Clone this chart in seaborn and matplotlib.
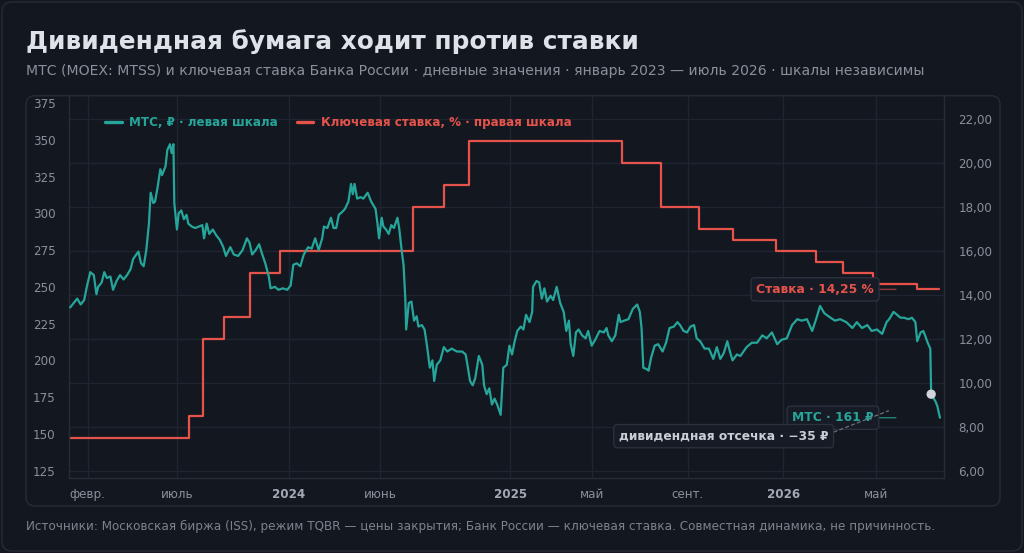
import matplotlib
matplotlib.use("Agg")
import matplotlib.pyplot as plt
import matplotlib.transforms as mtrans
from matplotlib.patches import FancyBboxPatch
from matplotlib.lines import Line2D
import seaborn as sns
import pandas as pd

# ---------------- data ----------------
# x = trading-session number since 3 Jan 2023 (session index axis)
sessions = [1, 9, 13, 17, 20, 24, 28, 31, 33, 37, 40, 43, 47, 50, 54, 58, 62, 66, 70, 73, 79, 82, 85, 88, 91, 93, 96, 98,
            101, 104, 106, 110, 112, 115, 117, 119, 120, 123, 125, 128, 131, 134, 136, 140, 144, 148, 152, 154, 157, 160,
            164, 168, 172, 176, 179, 184, 188, 193, 198, 203, 206, 209, 213, 217, 220, 224, 228, 230, 235, 239, 244, 249,
            253, 256, 260, 264, 268, 273, 277, 281, 285, 289, 291, 295, 299, 302, 305, 308, 312, 315, 319, 322, 324, 326,
            329, 333, 336, 341, 345, 350, 352, 354, 357, 359, 362, 365, 368, 371, 375, 377, 380, 382, 384, 385, 388, 391,
            394, 397, 399, 403, 406, 409, 412, 415, 417, 420, 424, 428, 432, 437, 443, 449, 453, 455, 458, 461, 464, 468,
            472, 474, 477, 480, 483, 486, 489, 493, 496, 500, 503, 506, 509, 512, 516, 519, 522, 526, 529, 530, 534, 537,
            540, 543, 546, 550, 553, 557, 561, 565, 568, 571, 573, 576, 579, 582, 586, 590, 593, 597, 601, 606, 611, 614,
            616, 620, 624, 628, 630, 634, 639, 644, 649, 652, 654, 656, 660, 662, 665, 669, 673, 678, 682, 686, 691, 695,
            698, 702, 706, 710, 714, 717, 721, 726, 731, 736, 740, 744, 748, 752, 755, 758, 763, 767, 774, 780, 786, 792,
            797, 803, 809, 814, 820, 826, 832, 837, 843, 849, 854, 858, 863, 870, 875, 881, 888, 895, 900, 906, 912, 917,
            923, 929, 934, 937, 942, 946, 950, 954, 959, 963, 967, 969, 973, 976, 978, 981, 984, 985, 988, 990, 992, 995]
mts_price = [236, 242, 238, 241, 250, 260, 258, 245, 250, 253, 260, 256, 257, 248, 254, 258, 255, 258, 262, 269, 274, 266,
             264, 275, 293, 314, 307, 308, 318, 330, 326, 332, 343, 347, 341, 347, 307, 289, 300, 302, 296, 299, 293, 291,
             290, 291, 292, 283, 293, 286, 289, 285, 282, 277, 271, 277, 272, 271, 275, 283, 280, 272, 275, 279, 273, 266,
             257, 249, 250, 248, 249, 248, 251, 265, 266, 264, 272, 277, 276, 283, 275, 283, 291, 290, 297, 290, 290, 299,
             301, 303, 308, 320, 313, 320, 310, 311, 310, 314, 308, 303, 294, 283, 297, 291, 289, 286, 292, 290, 297, 290,
             274, 265, 242, 221, 239, 240, 227, 230, 223, 224, 221, 209, 195, 200, 186, 197, 200, 209, 206, 208, 206, 206,
             204, 197, 186, 183, 188, 203, 197, 183, 177, 181, 170, 174, 170, 163, 195, 197, 210, 204, 213, 220, 223, 221,
             231, 226, 233, 250, 254, 253, 242, 249, 240, 244, 241, 250, 239, 233, 220, 227, 211, 203, 219, 221, 217, 215,
             220, 210, 214, 220, 219, 222, 217, 213, 217, 231, 226, 227, 228, 235, 238, 233, 222, 195, 194, 193, 202, 210,
             211, 206, 212, 222, 223, 226, 224, 220, 219, 223, 224, 215, 213, 208, 208, 201, 209, 201, 205, 213, 206, 200,
             204, 203, 209, 212, 212, 217, 215, 219, 211, 214, 215, 224, 228, 227, 228, 220, 229, 237, 232, 229, 227, 228,
             226, 222, 226, 222, 224, 220, 221, 218, 226, 228, 233, 231, 229, 229, 228, 229, 226, 213, 219, 220, 217, 212,
             208, 177, 174, 172, 169, 161]

rate_sessions = [0, 137, 153, 177, 207, 241, 393, 428, 457, 632, 676, 720, 759, 808, 853, 884, 919, 969, 994]
key_rate = [7.5, 8.5, 12.0, 13.0, 15.0, 16.0, 18.0, 19.0, 21.0, 20.0, 18.0, 17.0, 16.5, 16.0, 15.5, 15.0, 14.5, 14.25, 14.25]

tick_sessions = [21, 123, 251, 355, 504, 597, 707, 816, 922]
tick_labels = ["февр.", "июль", "2024", "июнь", "2025", "май", "сент.", "2026", "май"]

div_session = 985
div_gap = 35

left_ticks = [125, 150, 175, 200, 225, 250, 275, 300, 325, 350, 375]
right_ticks = [6, 8, 10, 12, 14, 16, 18, 20, 22]

title = "Дивидендная бумага ходит против ставки"
subtitle = ("МТС (MOEX: MTSS) и ключевая ставка Банка России · дневные значения · "
            "январь 2023 — июль 2026 · шкалы независимы")
footer = ("Источники: Московская биржа (ISS), режим TQBR — цены закрытия; Банк России — ключевая ставка. "
          "Совместная динамика, не причинность.")
legend_mts = "МТС, ₽ · левая шкала"
legend_rate = "Ключевая ставка, % · правая шкала"

# ---------------- style ----------------
BG = "#131720"
PANEL_EDGE = "#262c37"
GRID = "#1f2530"
TEAL = "#26a69a"
RED = "#e5534b"
TICK = "#8a909b"
YEAR = "#a3a9b4"
BOXBG = "#161b25"
BOXEDGE = "#2c3340"

sns.set_theme(style="dark")
plt.rcParams["font.family"] = ["DejaVu Sans"]
plt.rcParams["axes.unicode_minus"] = True

W, H = 1024, 553
fig = plt.figure(figsize=(W / 100, H / 100), dpi=100, facecolor=BG)
ident = mtrans.IdentityTransform()

# outer card and chart panel (pixel coordinates), drawn beneath the axes
fig.patches.append(FancyBboxPatch((2, 2), W - 4, H - 4, boxstyle="round,pad=0,rounding_size=10",
                                  transform=ident, facecolor=BG, edgecolor=PANEL_EDGE, lw=1, zorder=-3))
fig.patches.append(FancyBboxPatch((26, H - 506), 974, 410.3, boxstyle="round,pad=0,rounding_size=9",
                                  transform=ident, facecolor=BG, edgecolor=PANEL_EDGE, lw=1, zorder=-2))

ax = fig.add_axes([69.3 / W, (H - 478) / H, 875 / W, 382.3 / H])
ax.patch.set_visible(False)

# rate (bottom layer, right scale)
rate_df = pd.DataFrame({"s": rate_sessions, "r": key_rate})
sns.lineplot(data=rate_df, x="s", y="r", ax=ax, color=RED, lw=1.6, drawstyle="steps-post",
             estimator=None, sort=False, legend=False)

twin = ax.twinx()
twin.patch.set_visible(False)
price_df = pd.DataFrame({"s": sessions, "p": mts_price})
sns.lineplot(data=price_df, x="s", y="p", ax=twin, color=TEAL, lw=1.6,
             estimator=None, sort=False, legend=False)

div_price = mts_price[sessions.index(div_session)]
sns.scatterplot(x=[div_session], y=[div_price], ax=twin, color="#d1d5db", s=45,
                edgecolor="none", zorder=6, legend=False)

# axes / scales
ax.set_xlim(0, 1000)
ax.set_ylim(5.66, 23.07)
twin.set_ylim(120, 380)

ax.yaxis.tick_right()
ax.yaxis.set_label_position("right")
twin.yaxis.tick_left()
twin.yaxis.set_label_position("left")

for a in (ax, twin):
    a.set_xlabel("")
    a.set_ylabel("")

ax.set_xticks(tick_sessions)
ax.set_xticklabels(tick_labels)
ax.set_yticks(right_ticks)
ax.set_yticklabels([f"{v:.2f}".replace(".", ",") for v in right_ticks])
twin.set_yticks(left_ticks)
twin.set_yticklabels([str(v) for v in left_ticks])

ax.tick_params(axis="x", length=0, pad=7, labelsize=8.6, labelcolor=TICK)
ax.tick_params(axis="y", length=0, pad=10, labelsize=8.6, labelcolor=TICK,
               left=False, labelleft=False, right=True, labelright=True)
twin.tick_params(axis="y", length=0, pad=10, labelsize=8.6, labelcolor=TICK,
                 left=True, labelleft=True, right=False, labelright=False)

for lbl in ax.get_xticklabels():
    if lbl.get_text().isdigit():
        lbl.set_fontweight("bold")
        lbl.set_color(YEAR)

ax.grid(True, axis="both", color=GRID, lw=1)
twin.grid(False)

for name, sp in ax.spines.items():
    sp.set_visible(name in ("left", "right", "bottom"))
    sp.set_color(PANEL_EDGE)
    sp.set_linewidth(1)
for sp in twin.spines.values():
    sp.set_visible(False)

# legend
handles = [Line2D([0], [0], color=TEAL, lw=2.4), Line2D([0], [0], color=RED, lw=2.4)]
leg = twin.legend(handles, [legend_mts, legend_rate], loc="upper left", bbox_to_anchor=(0.034, 0.962),
                  ncol=2, frameon=False, borderpad=0, handlelength=1.4, handletextpad=0.6,
                  columnspacing=1.6, prop={"weight": "bold", "size": 8.6})
for txt, c in zip(leg.get_texts(), [TEAL, RED]):
    txt.set_color(c)

# end labels
box = dict(boxstyle="round,pad=0.42,rounding_size=0.3", fc=BOXBG, ec=BOXEDGE, lw=0.9)
last_price = mts_price[-1]
twin.annotate(f"МТС · {last_price:.0f} ₽", xy=(sessions[-1], last_price), xytext=(-47.7, 0),
              textcoords="offset points", ha="right", va="center", color=TEAL, fontsize=8.8,
              fontweight="bold", bbox=box, zorder=7,
              arrowprops=dict(arrowstyle="-", color=TEAL, lw=1, alpha=0.75, shrinkA=0, shrinkB=31.7))
last_rate = key_rate[-1]
ax.annotate(f"Ставка · {last_rate:.2f} %".replace(".", ","), xy=(rate_sessions[-1], last_rate),
            xytext=(-46.9, 0), textcoords="offset points", ha="right", va="center", color=RED,
            fontsize=8.8, fontweight="bold", bbox=box, zorder=7,
            arrowprops=dict(arrowstyle="-", color=RED, lw=1, alpha=0.6, shrinkA=0, shrinkB=31))
twin.annotate(f"дивидендная отсечка · −{div_gap} ₽", xy=(div_session, div_price), xytext=(-74, -30.2),
              textcoords="offset points", ha="right", va="center", color="#c9ced6", fontsize=8.8,
              fontweight="bold", bbox=box, zorder=7,
              arrowprops=dict(arrowstyle="-", color="#6b7280", lw=0.9, linestyle=(0, (2.5, 2.5)),
                              shrinkA=0, shrinkB=33, relpos=(1.0, 0.65)))

# titles
fig.text(26 / W, 1 - 48.5 / H, title, ha="left", va="baseline", fontsize=17.85, fontweight="bold",
         color="#dfe2e8")
fig.text(26 / W, 1 - 75 / H, subtitle, ha="left", va="baseline", fontsize=10.05, color=TICK)
fig.text(26 / W, 1 - 529.7 / H, footer, ha="left", va="baseline", fontsize=8.63, color="#7c828d")

fig.savefig("out.png", dpi=100, facecolor=BG)
